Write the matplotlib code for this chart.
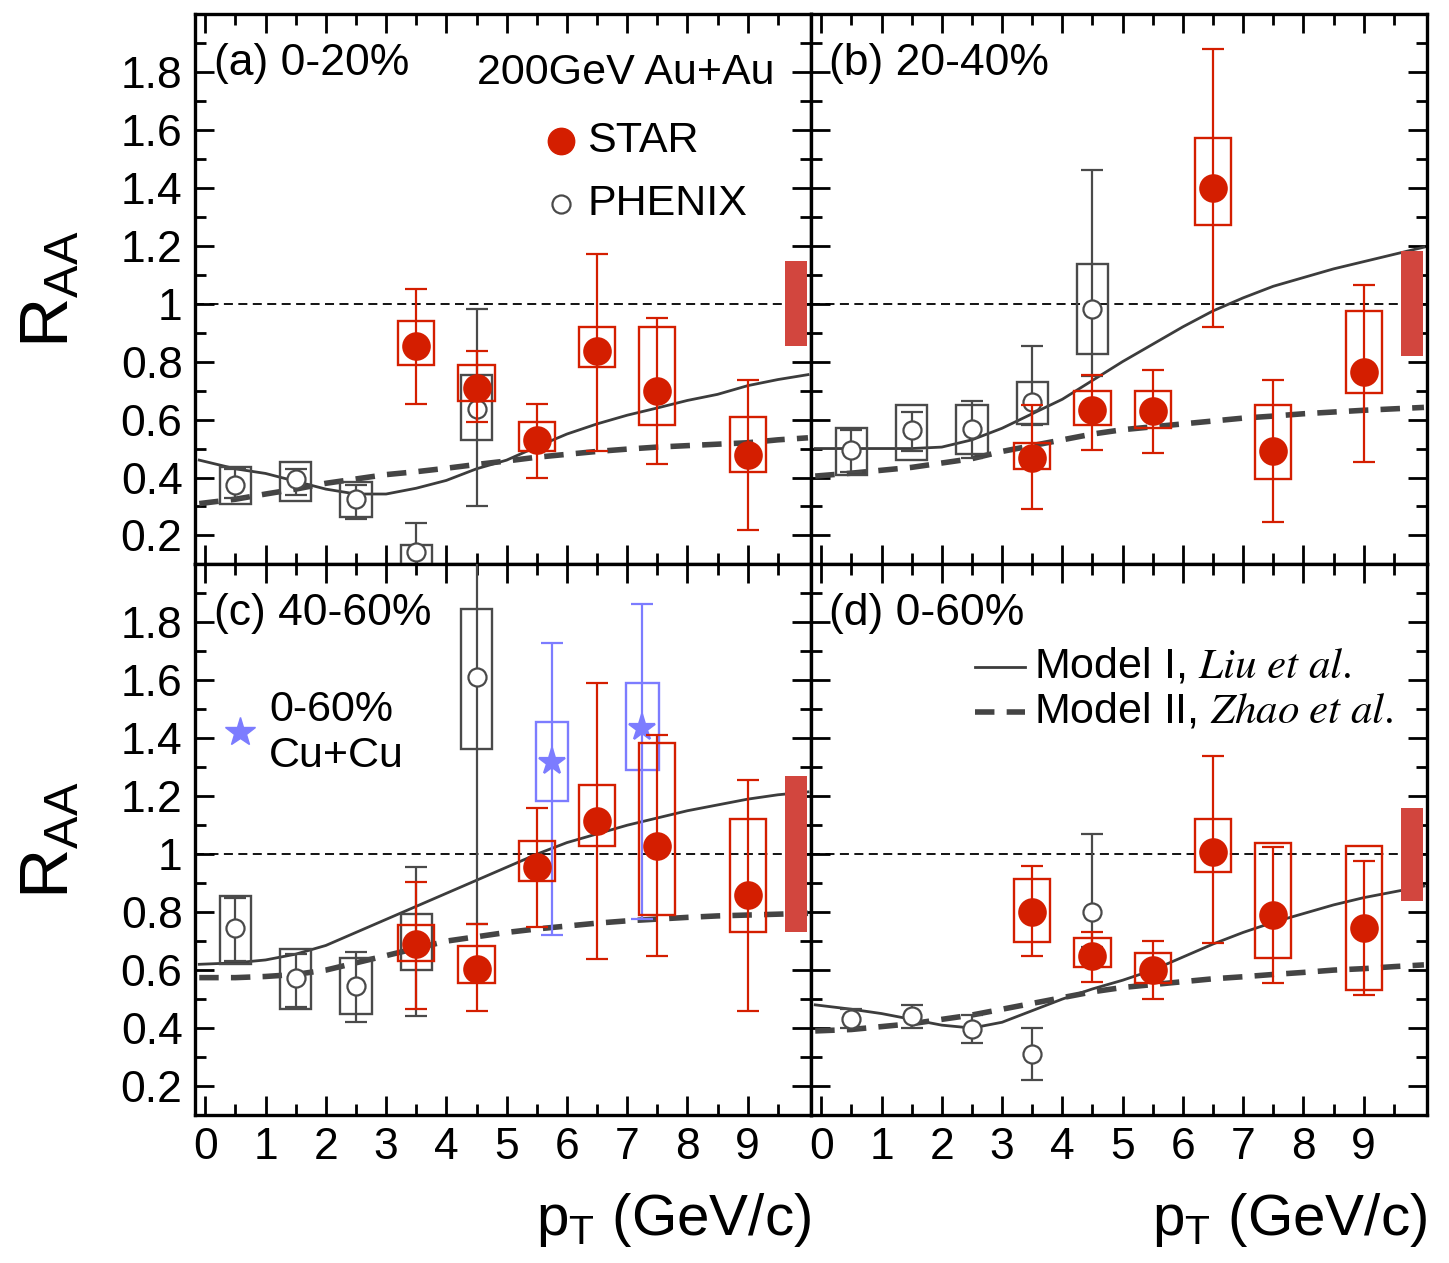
import matplotlib
matplotlib.use("Agg")
import matplotlib.pyplot as plt
import numpy as np
from matplotlib.patches import Rectangle

plt.rcParams['font.family'] = ['Liberation Sans', 'DejaVu Sans']
plt.rcParams['mathtext.fontset'] = 'stix'

RED = '#d41e00'
GRAY = '#4a4a4a'
BLUE = '#7c7cff'
GLOBAL = '#d2463e'

pt_x = [0.5, 1.5, 2.5, 3.5, 4.5]
star_x = [3.5, 4.5, 5.5, 6.5, 7.5, 9.0]

# ---- (a) 0-20% ----
a_star_y = [0.854, 0.71, 0.53, 0.837, 0.70, 0.476]
a_star_stat = [(0.653, 1.05), (0.59, 0.837), (0.40, 0.653), (0.49, 1.17), (0.445, 0.952), (0.22, 0.735)]
a_star_sys = [(0.79, 0.94), (0.663, 0.79), (0.49, 0.59), (0.78, 0.918), (0.58, 0.918), (0.42, 0.61)]
a_phx_y = [0.374, 0.394, 0.326, 0.142, 0.636]
a_phx_stat = [(0.33, 0.43), (0.34, 0.43), (0.258, 0.374), (0.05, 0.244), (0.30, 0.98)]
a_phx_sys = [(0.31, 0.435), (0.32, 0.455), (0.265, 0.384), (0.05, 0.166), (0.53, 0.755)]
a_global = 0.146

# ---- (b) 20-40% ----
b_star_y = [0.466, 0.632, 0.63, 1.40, 0.493, 0.765]
b_star_stat = [(0.29, 0.65), (0.496, 0.755), (0.483, 0.772), (0.918, 1.878), (0.245, 0.735), (0.455, 1.065)]
b_star_sys = [(0.43, 0.52), (0.58, 0.70), (0.57, 0.70), (1.27, 1.572), (0.394, 0.65), (0.69, 0.973)]
b_phx_y = [0.496, 0.565, 0.568, 0.66, 0.983]
b_phx_stat = [(0.42, 0.565), (0.49, 0.625), (0.466, 0.663), (0.58, 0.854), (0.75, 1.46)]
b_phx_sys = [(0.407, 0.571), (0.462, 0.65), (0.48, 0.65), (0.585, 0.728), (0.826, 1.136)]
b_global = 0.18

# ---- (c) 40-60% ----
c_star_y = [0.69, 0.605, 0.956, 1.116, 1.027, 0.86]
c_star_stat = [(0.466, 0.905), (0.459, 0.758), (0.75, 1.16), (0.64, 1.59), (0.65, 1.41), (0.46, 1.255)]
c_star_sys = [(0.63, 0.755), (0.554, 0.683), (0.908, 1.044), (1.03, 1.238), (0.79, 1.385), (0.73, 1.12)]
c_phx_y = [0.745, 0.574, 0.544, 0.70, 1.613]
c_phx_stat = [(0.63, 0.85), (0.473, 0.656), (0.42, 0.663), (0.44, 0.956), (0.76, 2.10)]
c_phx_sys = [(0.622, 0.857), (0.466, 0.673), (0.45, 0.643), (0.60, 0.792), (1.364, 1.845)]
c_global = 0.27
cu_x = [5.75, 7.25]
cu_y = [1.317, 1.436]
cu_stat = [(0.72, 1.73), (0.775, 1.865)]
cu_sys = [(1.184, 1.456), (1.29, 1.59)]

# ---- (d) 0-60% ----
d_star_y = [0.80, 0.65, 0.60, 1.007, 0.79, 0.745]
d_star_stat = [(0.65, 0.96), (0.56, 0.73), (0.50, 0.70), (0.694, 1.34), (0.557, 1.024), (0.513, 0.976)]
d_star_sys = [(0.697, 0.915), (0.61, 0.71), (0.557, 0.66), (0.94, 1.12), (0.643, 1.04), (0.53, 1.027)]
d_phx_y = [0.43, 0.44, 0.397, 0.31, 0.80]
d_phx_stat = [(0.40, 0.465), (0.40, 0.48), (0.35, 0.445), (0.22, 0.40), (0.68, 1.068)]
d_global = 0.16

# ---- model curves ----
model_x = [-0.1, 0.5, 1, 1.5, 2, 2.5, 3, 3.5, 4, 4.5, 5, 5.5, 6, 6.5, 7, 7.5, 8, 8.5, 9, 9.5, 10]
a_liu = [0.46, 0.43, 0.414, 0.387, 0.36, 0.343, 0.343, 0.363, 0.39, 0.43, 0.46, 0.506, 0.55, 0.585,
         0.615, 0.64, 0.666, 0.687, 0.717, 0.738, 0.755]
a_zhao = [0.31, 0.325, 0.343, 0.36, 0.38, 0.395, 0.41, 0.42, 0.432, 0.445, 0.457, 0.47, 0.48, 0.49,
          0.498, 0.505, 0.51, 0.515, 0.52, 0.53, 0.537]
b_liu = [0.50, 0.50, 0.50, 0.50, 0.505, 0.53, 0.57, 0.62, 0.67, 0.735, 0.80, 0.86, 0.92, 0.975,
         1.02, 1.06, 1.09, 1.12, 1.145, 1.17, 1.195]
b_zhao = [0.405, 0.415, 0.425, 0.435, 0.45, 0.465, 0.49, 0.51, 0.53, 0.55, 0.565, 0.575, 0.585, 0.595,
          0.605, 0.612, 0.62, 0.626, 0.632, 0.637, 0.642]
c_liu = [0.62, 0.625, 0.635, 0.655, 0.685, 0.73, 0.775, 0.82, 0.865, 0.91, 0.955, 1.0, 1.04, 1.07,
         1.10, 1.125, 1.15, 1.17, 1.19, 1.205, 1.215]
c_zhao = [0.574, 0.574, 0.578, 0.585, 0.60, 0.625, 0.65, 0.675, 0.70, 0.715, 0.73, 0.742, 0.752, 0.762,
          0.77, 0.776, 0.782, 0.787, 0.79, 0.793, 0.796]
d_liu = [0.48, 0.465, 0.45, 0.43, 0.41, 0.40, 0.42, 0.46, 0.50, 0.535, 0.565, 0.60, 0.645, 0.69,
         0.73, 0.765, 0.795, 0.825, 0.85, 0.87, 0.89]
d_zhao = [0.39, 0.395, 0.405, 0.415, 0.43, 0.445, 0.465, 0.485, 0.505, 0.525, 0.54, 0.55, 0.56, 0.57,
          0.577, 0.585, 0.592, 0.60, 0.605, 0.612, 0.618]

panel_titles = ['(a) 0-20%', '(b) 20-40%', '(c) 40-60%', '(d) 0-60%']
ytick_vals = [0.2, 0.4, 0.6, 0.8, 1.0, 1.2, 1.4, 1.6, 1.8]
ytick_labels = ['0.2', '0.4', '0.6', '0.8', '1', '1.2', '1.4', '1.6', '1.8']


def draw_set(ax, x, y, stat, sys, color, hw, marker, ms, mfc, z):
    x = np.asarray(x, dtype=float)
    y = np.asarray(y, dtype=float)
    lo = np.array([s[0] for s in stat])
    hi = np.array([s[1] for s in stat])
    if sys is not None:
        for xi, (s0, s1) in zip(x, sys):
            ax.add_patch(Rectangle((xi - hw, s0), 2 * hw, s1 - s0, fill=False,
                                   ec=color, lw=1.7, zorder=z))
    ax.errorbar(x, y, yerr=[y - lo, hi - y], fmt='none', ecolor=color, elinewidth=1.6,
                capsize=8, capthick=1.6, zorder=z)
    ax.plot(x, y, ls='none', marker=marker, ms=ms, mfc=mfc, mec=color, mew=1.6, zorder=z + 0.5)


fig, axes = plt.subplots(2, 2, figsize=(14.49, 12.63), dpi=100, sharex=True, sharey=True)
fig.subplots_adjust(left=0.1346, right=0.9848, top=0.989, bottom=0.1172, wspace=0, hspace=0)

panels = [
    (axes[0, 0], a_star_y, a_star_stat, a_star_sys, a_phx_y, a_phx_stat, a_phx_sys, a_global, a_liu, a_zhao),
    (axes[0, 1], b_star_y, b_star_stat, b_star_sys, b_phx_y, b_phx_stat, b_phx_sys, b_global, b_liu, b_zhao),
    (axes[1, 0], c_star_y, c_star_stat, c_star_sys, c_phx_y, c_phx_stat, c_phx_sys, c_global, c_liu, c_zhao),
    (axes[1, 1], d_star_y, d_star_stat, d_star_sys, d_phx_y, d_phx_stat, None, d_global, d_liu, d_zhao),
]

for i, (ax, sy, sst, ssy, py, pst, psy, glob, liu, zhao) in enumerate(panels):
    ax.set_xlim(-0.17, 10.05)
    ax.set_ylim(0.12, 2.0)
    ax.axhline(1.0, color='black', ls=(0, (5, 3)), lw=1.3, zorder=1)
    ax.plot(model_x, liu, color='#3c3c3c', lw=2.0, zorder=2)
    ax.plot(model_x, zhao, color='#444444', lw=4.0, ls=(0, (3.5, 2.2)), zorder=2)
    ax.add_patch(Rectangle((9.62, 1 - glob), 0.36, 2 * glob, color=GLOBAL, lw=0, zorder=3))
    draw_set(ax, pt_x, py, pst, psy, GRAY, 0.26, 'o', 13, 'white', 4)
    draw_set(ax, star_x, sy, sst, ssy, RED, 0.3, 'o', 19, RED, 5)
    ax.text(0.03, 0.91, panel_titles[i], transform=ax.transAxes, fontsize=32,
            ha='left', va='center')

    ax.set_xticks(range(0, 10))
    ax.set_xticks(np.arange(0.5, 10.0, 1.0), minor=True)
    ax.set_yticks(ytick_vals)
    ax.set_yticks(np.arange(0.1, 2.0, 0.2), minor=True)
    ax.set_yticklabels(ytick_labels)
    ax.tick_params(which='both', direction='in', top=True, right=True, width=2.0,
                   labelsize=32, colors='black')
    ax.tick_params(which='major', length=14, pad=9)
    ax.tick_params(which='minor', length=8)
    for sp in ax.spines.values():
        sp.set_linewidth(2.4)

# Cu+Cu stars in (c)
draw_set(axes[1, 0], cu_x, cu_y, cu_stat, cu_sys, BLUE, 0.27, '*', 20, BLUE, 3.5)

# (a) labels
ax = axes[0, 0]
ax.text(0.94, 0.893, '200GeV Au+Au', transform=ax.transAxes, fontsize=31, ha='right', va='center')
ax.plot([0.594], [0.77], transform=ax.transAxes, marker='o', ms=19, color=RED, ls='none', clip_on=False)
ax.text(0.637, 0.77, 'STAR', transform=ax.transAxes, fontsize=31, ha='left', va='center')
ax.plot([0.594], [0.655], transform=ax.transAxes, marker='o', ms=13, mfc='white', mec=GRAY,
        mew=1.6, ls='none', clip_on=False)
ax.text(0.637, 0.655, 'PHENIX', transform=ax.transAxes, fontsize=31, ha='left', va='center')

# (c) Cu+Cu label
ax = axes[1, 0]
ax.plot([0.073], [0.696], transform=ax.transAxes, marker='*', ms=22, color=BLUE, ls='none')
ax.text(0.12, 0.735, '0-60%', transform=ax.transAxes, fontsize=31, ha='left', va='center')
ax.text(0.12, 0.652, 'Cu+Cu', transform=ax.transAxes, fontsize=31, ha='left', va='center')

# (d) model legend
ax = axes[1, 1]
ax.plot([0.267, 0.348], [0.814, 0.814], transform=ax.transAxes, color='#3c3c3c', lw=2.0)
ax.plot([0.267, 0.348], [0.732, 0.732], transform=ax.transAxes, color='#444444', lw=4.0,
        ls=(0, (3.5, 2.2)))
ax.text(0.362, 0.814, r'Model I, $\mathit{Liu\ et\ al.}$', transform=ax.transAxes, fontsize=31,
        ha='left', va='center')
ax.text(0.362, 0.732, r'Model II, $\mathit{Zhao\ et\ al.}$', transform=ax.transAxes, fontsize=31,
        ha='left', va='center')

# axis titles
for ax in axes[:, 0]:
    ax.set_ylabel(r'$\mathregular{R_{AA}}$', fontsize=50, labelpad=28)
for ax in axes[1, :]:
    ax.set_xlabel(r'$\mathregular{p_{T}}$ (GeV/c)', fontsize=42, loc='right', labelpad=16)

fig.savefig('out.png', dpi=100)
